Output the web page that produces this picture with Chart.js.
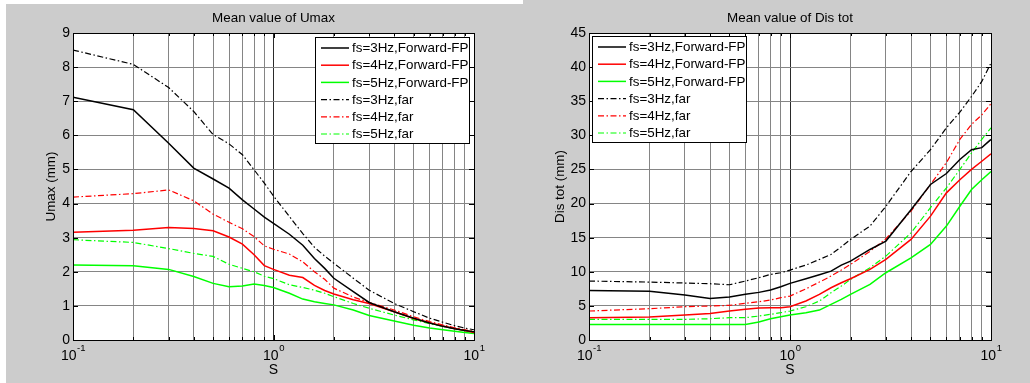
<!DOCTYPE html>
<html>
<head>
<meta charset="utf-8">
<script src="https://cdn.jsdelivr.net/npm/chart.js@4.4.0/dist/chart.umd.min.js"></script>
<style>
  body { margin: 0; width: 1030px; height: 383px; overflow: hidden; position: relative; background: #cccccc; }
  .strip-top { position: absolute; left: 0; top: 0; width: 523px; height: 4px; background: #fff; }
  .strip-left { position: absolute; left: 0; top: 0; width: 6px; height: 383px; background: #fff; }
  canvas { position: absolute; top: 0; }
  #umax { left: 0; }
  #distot { left: 515px; }
</style>
</head>
<body>
<div class="strip-top"></div>
<div class="strip-left"></div>
<canvas id="umax" width="515" height="383"></canvas>
<canvas id="distot" width="515" height="383"></canvas>
<script>
// S values where the curves were sampled
const sValues = [0.1, 0.2, 0.3, 0.4, 0.5, 0.6, 0.7, 0.8, 0.9, 1.0, 1.2, 1.4, 1.6, 1.8, 2, 2.5, 3, 4, 5, 6, 7, 8, 9, 10];
// grid lines of the log axis
const sGridTicks = [0.1, 0.2, 0.3, 0.4, 0.5, 0.6, 0.7, 0.8, 0.9, 1, 2, 3, 4, 5, 6, 7, 8, 9, 10];
const sLabelTicks = [0.1, 1, 10];

const seriesLabels = ['fs=3Hz,Forward-FP', 'fs=4Hz,Forward-FP', 'fs=5Hz,Forward-FP',
                      'fs=3Hz,far', 'fs=4Hz,far', 'fs=5Hz,far'];

// Mean value of Umax (mm)
const umax3Forward = [7.12, 6.75, 5.77, 5.04, 4.72, 4.45, 4.11, 3.84, 3.60, 3.42, 3.10, 2.78, 2.39, 2.10, 1.81, 1.42, 1.10, 0.83, 0.64, 0.50, 0.40, 0.33, 0.28, 0.24];
const umax4Forward = [3.16, 3.22, 3.30, 3.27, 3.20, 3.02, 2.81, 2.50, 2.18, 2.07, 1.90, 1.83, 1.60, 1.45, 1.35, 1.18, 1.07, 0.83, 0.63, 0.51, 0.41, 0.34, 0.28, 0.22];
const umax5Forward = [2.20, 2.18, 2.07, 1.86, 1.66, 1.56, 1.58, 1.64, 1.60, 1.54, 1.37, 1.20, 1.12, 1.07, 1.03, 0.88, 0.72, 0.56, 0.43, 0.35, 0.30, 0.26, 0.22, 0.19];
const umax3Far = [8.50, 8.08, 7.40, 6.70, 6.02, 5.75, 5.43, 4.99, 4.60, 4.22, 3.62, 3.12, 2.72, 2.46, 2.25, 1.81, 1.46, 1.07, 0.83, 0.64, 0.52, 0.42, 0.35, 0.30];
const umax4Far = [4.19, 4.29, 4.40, 4.08, 3.69, 3.45, 3.26, 3.03, 2.76, 2.66, 2.52, 2.29, 2.00, 1.78, 1.52, 1.26, 1.10, 0.88, 0.68, 0.54, 0.44, 0.36, 0.30, 0.25];
const umax5Far = [2.94, 2.86, 2.68, 2.54, 2.45, 2.22, 2.10, 2.00, 1.87, 1.80, 1.62, 1.54, 1.46, 1.37, 1.27, 1.07, 0.93, 0.73, 0.59, 0.48, 0.40, 0.33, 0.28, 0.22];

// Mean value of Dis tot (mm)
const dis3Forward = [7.27, 7.13, 6.59, 6.10, 6.30, 6.69, 6.98, 7.32, 7.81, 8.30, 8.98, 9.57, 10.1, 10.98, 11.57, 13.27, 14.5, 19.1, 22.8, 24.4, 26.45, 27.9, 28.2, 29.4];
const dis4Forward = [3.27, 3.37, 3.66, 3.90, 4.25, 4.49, 4.69, 4.73, 4.73, 4.88, 5.71, 6.69, 7.66, 8.39, 8.98, 10.35, 11.81, 14.74, 18.16, 21.57, 23.5, 25.0, 26.2, 27.3];
const dis5Forward = [2.29, 2.29, 2.29, 2.29, 2.29, 2.29, 2.64, 3.12, 3.42, 3.66, 4.0, 4.39, 5.22, 5.95, 6.69, 8.15, 9.86, 12.05, 14.0, 16.7, 19.6, 22.06, 23.5, 24.7];
const dis3Far = [8.64, 8.49, 8.35, 8.25, 8.10, 8.64, 9.13, 9.61, 9.86, 10.25, 10.98, 11.81, 12.54, 13.67, 14.74, 16.7, 19.6, 24.7, 27.9, 31.1, 33.4, 35.7, 37.9, 40.6];
const dis4Far = [4.25, 4.59, 4.88, 4.98, 5.08, 5.37, 5.61, 5.86, 6.2, 6.44, 7.5, 8.49, 9.37, 10.25, 11.08, 13.0, 14.84, 18.9, 22.8, 26.0, 29.4, 31.6, 33.0, 34.65];
const dis5Far = [3.03, 3.03, 3.03, 3.12, 3.27, 3.27, 3.51, 3.76, 4.0, 4.25, 4.88, 5.71, 6.93, 7.9, 8.88, 10.6, 12.3, 15.7, 19.4, 22.3, 25.0, 27.4, 29.4, 31.1];

const FONT = '"Liberation Sans", Arial, sans-serif';
const colors = ['#000000', '#ff0000', '#00ff00', '#000000', '#ff0000', '#00ff00'];
const dashDot = [6, 2.5, 1.5, 2.5];

function buildDatasets(seriesList) {
    return seriesList.map(function (values, i) {
        const far = i >= 3;
        return {
            label: seriesLabels[i],
            data: values.map(function (v, j) { return { x: sValues[j], y: v }; }),
            borderColor: colors[i],
            backgroundColor: colors[i],
            borderWidth: far ? 1.2 : 1.5,
            borderDash: far ? dashDot : [],
            pointRadius: 0,
            tension: 0,
            fill: false
        };
    });
}

// white axes box, frame, tick marks, log labels, title and boxed legend
const matlabAxes = {
    id: 'matlabAxes',
    beforeDraw(chart) {
        const a = chart.chartArea;
        const ctx = chart.ctx;
        ctx.save();
        ctx.fillStyle = '#ffffff';
        ctx.fillRect(a.left, a.top, a.right - a.left, a.bottom - a.top);
        ctx.restore();
    },
    afterDraw(chart, args, opts) {
        const a = chart.chartArea;
        const ctx = chart.ctx;
        const xs = chart.scales.x;
        const ys = chart.scales.y;
        ctx.save();

        // tick marks inside the box
        ctx.strokeStyle = '#000';
        ctx.lineWidth = 1;
        ctx.setLineDash([]);
        ctx.beginPath();
        sGridTicks.forEach(function (v) {
            const px = Math.round(xs.getPixelForValue(v)) + 0.5;
            const len = sLabelTicks.indexOf(v) >= 0 ? 5 : 3;
            ctx.moveTo(px, a.top); ctx.lineTo(px, a.top + len);
            ctx.moveTo(px, a.bottom); ctx.lineTo(px, a.bottom - len);
        });
        ys.ticks.forEach(function (t) {
            const py = Math.round(ys.getPixelForValue(t.value)) + 0.5;
            ctx.moveTo(a.left, py); ctx.lineTo(a.left + 5, py);
            ctx.moveTo(a.right, py); ctx.lineTo(a.right - 5, py);
        });
        ctx.stroke();

        // frame
        ctx.strokeRect(Math.round(a.left) + 0.5, Math.round(a.top) + 0.5,
                       Math.round(a.right - a.left), Math.round(a.bottom - a.top));

        // x labels as 10^n
        ctx.fillStyle = '#000';
        ctx.textBaseline = 'alphabetic';
        ctx.textAlign = 'left';
        sLabelTicks.forEach(function (v) {
            const px = xs.getPixelForValue(v);
            const exp = String(Math.round(Math.log10(v)));
            ctx.font = '14px ' + FONT;
            const w1 = ctx.measureText('10').width;
            ctx.font = '9.5px ' + FONT;
            const w2 = ctx.measureText(exp).width;
            const x0 = px - (w1 + w2) / 2;
            ctx.font = '14px ' + FONT;
            ctx.fillText('10', x0, 359.5);
            ctx.font = '9.5px ' + FONT;
            ctx.fillText(exp, x0 + w1 + 0.5, 351);
        });

        // title centred on the axes
        ctx.font = '13.4px ' + FONT;
        ctx.textAlign = 'center';
        ctx.textBaseline = 'middle';
        ctx.fillText(opts.title, (a.left + a.right) / 2, 18.5);

        // boxed legend
        const lg = opts.legend;
        const bx = lg.side === 'right' ? a.right - lg.dx - lg.width : a.left + lg.dx;
        const by = a.top + lg.dy;
        ctx.fillStyle = '#fff';
        ctx.fillRect(bx, by, lg.width, lg.height);
        ctx.save();
        ctx.beginPath();
        ctx.rect(bx, by, lg.width, lg.height);
        ctx.clip();
        chart.data.datasets.forEach(function (ds, i) {
            const cy = by + 11 + i * 17.2;
            ctx.strokeStyle = ds.borderColor;
            ctx.lineWidth = ds.borderWidth;
            ctx.setLineDash(ds.borderDash);
            ctx.beginPath();
            ctx.moveTo(bx + 6, cy);
            ctx.lineTo(bx + 34, cy);
            ctx.stroke();
            ctx.setLineDash([]);
            ctx.fillStyle = '#000';
            ctx.font = '13.4px ' + FONT;
            ctx.textAlign = 'left';
            ctx.textBaseline = 'middle';
            ctx.fillText(ds.label, bx + 37, cy + 0.5);
        });
        ctx.restore();
        ctx.strokeStyle = '#000';
        ctx.lineWidth = 1;
        ctx.strokeRect(Math.round(bx) + 0.5, Math.round(by) + 0.5, lg.width, lg.height);
        ctx.restore();
    }
};

function makeChart(canvasId, opts) {
    const ctx = document.getElementById(canvasId);
    return new Chart(ctx, {
        type: 'line',
        data: { datasets: buildDatasets(opts.series) },
        plugins: [matlabAxes],
        options: {
            responsive: false,
            animation: false,
            devicePixelRatio: 1,
            layout: { padding: { top: 33, right: opts.padRight, bottom: 0, left: 0 } },
            plugins: {
                legend: { display: false },
                tooltip: { enabled: false },
                title: { display: false },
                matlabAxes: { title: opts.title, legend: opts.legend }
            },
            scales: {
                x: {
                    type: 'logarithmic',
                    min: 0.1,
                    max: 10,
                    afterBuildTicks: function (scale) {
                        scale.ticks = sGridTicks.map(function (v) { return { value: v }; });
                    },
                    afterFit: function (scale) { scale.height = 43; },
                    ticks: {
                        autoSkip: false,
                        maxRotation: 0,
                        callback: function () { return ''; }
                    },
                    grid: {
                        drawTicks: false,
                        lineWidth: 1,
                        color: function (c) { return c.tick && c.tick.value === 1 ? '#2a2a2a' : '#858585'; }
                    },
                    border: { display: false },
                    title: {
                        display: true,
                        text: 'S',
                        color: '#000',
                        font: { family: FONT, size: 14 },
                        padding: { top: 0, bottom: 4 }
                    }
                },
                y: {
                    min: 0,
                    max: opts.yMax,
                    afterFit: function (scale) { scale.width = opts.yWidth; },
                    ticks: {
                        stepSize: opts.yStep,
                        padding: 3,
                        color: '#000',
                        font: { family: FONT, size: 14 }
                    },
                    grid: { drawTicks: false, color: '#858585', lineWidth: 1 },
                    border: { display: false },
                    title: {
                        display: true,
                        text: opts.yTitle,
                        color: '#000',
                        font: { family: FONT, size: 13.4 },
                        padding: { top: opts.yTitlePad, bottom: 0 }
                    }
                }
            }
        }
    });
}

makeChart('umax', {
    title: 'Mean value of Umax',
    yTitle: 'Umax (mm)',
    yMax: 9,
    yStep: 1,
    yWidth: 73,
    yTitlePad: 43,
    padRight: 41,
    series: [umax3Forward, umax4Forward, umax5Forward, umax3Far, umax4Far, umax5Far],
    legend: { side: 'right', dx: 5, dy: 4, width: 154, height: 106 }
});

makeChart('distot', {
    title: 'Mean value of Dis tot',
    yTitle: 'Dis tot (mm)',
    yMax: 45,
    yStep: 5,
    yWidth: 74,
    yTitlePad: 37,
    padRight: 39,
    series: [dis3Forward, dis4Forward, dis5Forward, dis3Far, dis4Far, dis5Far],
    legend: { side: 'left', dx: 3, dy: 3, width: 154, height: 106 }
});
</script>
</body>
</html>
